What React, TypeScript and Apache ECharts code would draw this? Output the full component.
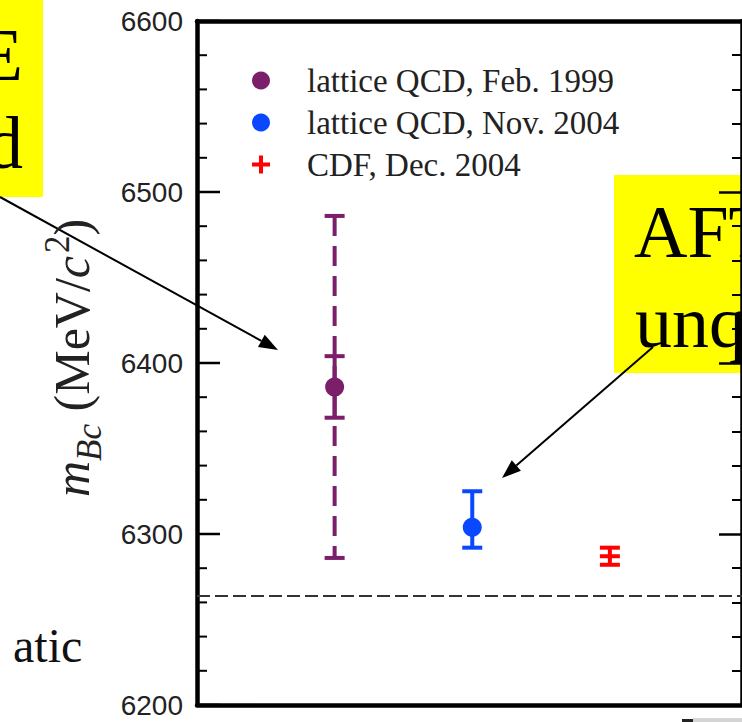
import React, { useEffect, useRef } from "react";
import * as echarts from "echarts";

// ---- data ----
const seriesNames = ["lattice QCD, Feb. 1999", "lattice QCD, Nov. 2004", "CDF, Dec. 2004"];
const seriesColors = ["#7b1f6b", "#0a48ff", "#ff0000"];
const xPositions = [1, 2, 3];
const centralValues = [6386, 6304, 6287];
const innerLow = [6368, 6292, 6282];
const innerHigh = [6404, 6325, 6292];
const outerLow = [6286, 6292, 6282];
const outerHigh = [6486, 6325, 6292];
const markerKinds = ["dashedDot", "dot", "cross"];
const referenceLine = 6264;
const yMin = 6200;
const yMax = 6600;
const yStep = 100;
// left-axis tick marks (value, 1 = major / 0 = minor)
const leftTickValues = [
  6200, 6220, 6240, 6260, 6280, 6300, 6320, 6340, 6360, 6380, 6400,
  6420, 6440, 6460, 6480, 6500, 6520, 6540, 6560, 6580, 6600,
];
const leftTickMajor = [1, 0, 0, 0, 0, 1, 0, 0, 0, 0, 1, 0, 0, 0, 0, 1, 0, 0, 0, 0, 1];

const plusIcon = "path://M7,0H11V7H18V11H11V18H7V11H0V7H7Z";

const GRID_LEFT = 197;
const GRID_RIGHT_EDGE = 751;

function measure(text: string, font: string): number {
  const c = document.createElement("canvas").getContext("2d");
  if (!c) return text.length * 20;
  c.font = font;
  return c.measureText(text).width;
}

function arrow(x1: number, y1: number, x2: number, y2: number, headLen = 19, headW = 14) {
  const dx = x2 - x1, dy = y2 - y1;
  const L = Math.hypot(dx, dy);
  const ux = dx / L, uy = dy / L, nx = -uy, ny = ux;
  const bx = x2 - ux * headLen, by = y2 - uy * headLen;
  return [
    { type: "line", shape: { x1, y1, x2: bx, y2: by }, style: { stroke: "#000", lineWidth: 2 } },
    {
      type: "polygon",
      shape: { points: [[x2, y2], [bx + (nx * headW) / 2, by + (ny * headW) / 2], [bx - (nx * headW) / 2, by - (ny * headW) / 2]] },
      style: { fill: "#000" },
    },
  ];
}

function makeRenderItem(kind: string) {
  return (params: any, api: any) => {
    const x = api.value(0);
    const pC = api.coord([x, api.value(1)]);
    const pLo = api.coord([x, api.value(2)]);
    const pHi = api.coord([x, api.value(3)]);
    const oLo = api.coord([x, api.value(4)]);
    const oHi = api.coord([x, api.value(5)]);
    const color = api.visual("color");
    const capHalf = 10;
    const lw = 4;
    const children: any[] = [];
    const cap = (p: number[]) => ({
      type: "line",
      shape: { x1: p[0] - capHalf, y1: p[1], x2: p[0] + capHalf, y2: p[1] },
      style: { stroke: color, lineWidth: lw },
    });
    if (kind === "dashedDot") {
      children.push({
        type: "line",
        shape: { x1: oHi[0], y1: oHi[1], x2: oLo[0], y2: oLo[1] },
        style: { stroke: color, lineWidth: lw, lineDash: [20, 10] },
      });
      children.push(cap(oLo), cap(oHi));
    }
    children.push({
      type: "line",
      shape: { x1: pHi[0], y1: pHi[1], x2: pLo[0], y2: pLo[1] },
      style: { stroke: color, lineWidth: lw },
    });
    children.push(cap(pLo), cap(pHi));
    if (kind === "cross") {
      children.push(cap(pC));
    } else {
      children.push({ type: "circle", shape: { cx: pC[0], cy: pC[1], r: 9.5 }, style: { fill: color } });
    }
    return { type: "group", children };
  };
}

function axisTitle() {
  const F = 50;
  const S = 35;
  const fam = "Liberation Serif";
  const pieces = [
    { t: "m", it: true, size: F, dy: 0 },
    { t: "Bc", it: true, size: S, dy: 0.24 * F },
    { t: " (MeV/", it: false, size: F, dy: 0 },
    { t: "c", it: true, size: F, dy: 0 },
    { t: "2", it: false, size: S, dy: -0.4 * F },
    { t: ")", it: false, size: F, dy: 0 },
  ];
  let cursor = 0;
  const children: any[] = [];
  for (const p of pieces) {
    const font = `${p.it ? "italic " : ""}${p.size}px "${fam}"`;
    children.push({
      type: "text",
      x: cursor,
      y: p.dy - 0.3375 * p.size,
      style: {
        text: p.t,
        fontFamily: fam,
        fontSize: p.size,
        fontStyle: p.it ? "italic" : "normal",
        fill: "#222",
        align: "left",
        verticalAlign: "middle",
      },
    });
    cursor += measure(p.t, font) + (p.t === "c" ? 3 : 0);
  }
  return { type: "group", x: 89, y: 497, rotation: Math.PI / 2, children };
}

function bigText(text: string, x: number, baseline: number, align: string) {
  const F = 74;
  return {
    type: "text",
    x,
    y: baseline - 0.3375 * F,
    style: { text, fontFamily: "Liberation Serif", fontSize: F, fill: "#000", align, verticalAlign: "middle" },
  };
}

function makeYAxis(position: string, opts: { ticks: boolean; labels: boolean }) {
  return {
    type: "value",
    min: yMin,
    max: yMax,
    interval: yStep,
    position,
    axisLine: { show: true, onZero: false, lineStyle: { color: "#000", width: 4.5 } },
    axisTick: { show: opts.ticks, inside: true, length: 23, lineStyle: { color: "#000", width: 2.5 } },
    minorTick: { show: opts.ticks, splitNumber: 5, length: 10, lineStyle: { color: "#000", width: 2 } },
    splitLine: { show: false },
    axisLabel: opts.labels
      ? {
          show: true,
          fontFamily: "Liberation Sans",
          fontSize: 28,
          color: "#222",
          margin: 14,
          formatter: (v: number) => String(v),
        }
      : { show: false },
  };
}

function makeXAxis(position: string) {
  return {
    type: "value",
    min: 0,
    max: 3.96,
    position,
    axisLine: { show: true, onZero: false, lineStyle: { color: "#000", width: 4.5 } },
    axisTick: { show: false },
    axisLabel: { show: false },
    splitLine: { show: false },
  };
}

export default function App() {
  const ref = useRef<HTMLDivElement>(null);
  useEffect(() => {
    if (!ref.current) return;
    const chart = echarts.init(ref.current, undefined, { renderer: "svg" });

    const series: any[] = seriesNames.map((name, i) => ({
      type: "custom",
      name,
      itemStyle: { color: seriesColors[i] },
      renderItem: makeRenderItem(markerKinds[i]),
      data: [[xPositions[i], centralValues[i], innerLow[i], innerHigh[i], outerLow[i], outerHigh[i]]],
      z: 5,
      ...(i === 0
        ? {
            markLine: {
              silent: true,
              symbol: "none",
              label: { show: false },
              lineStyle: { color: "#333", type: [13, 5], width: 2 },
              data: [{ yAxis: referenceLine }],
            },
          }
        : {}),
    }));

    const graphicBase: any[] = [
      { type: "rect", shape: { x: 0, y: 0, width: 43, height: 197 }, style: { fill: "#ffff00" } },
      bigText("E", 23, 80, "right"),
      bigText("d", 23, 168, "right"),
      { type: "rect", shape: { x: 614, y: 175, width: 140, height: 198 }, style: { fill: "#ffff00" } },
      bigText("AFT", 634, 257, "left"),
      bigText("unq", 635, 347, "left"),
      ...arrow(0, 197, 278, 350),
      ...arrow(653, 347, 502, 478),
      {
        type: "text",
        x: 13,
        y: 662 - 0.3375 * 48,
        style: { text: "atic", fontFamily: "Liberation Serif", fontSize: 48, fill: "#111", align: "left", verticalAlign: "middle" },
      },
      axisTitle(),
      { type: "rect", shape: { x: 693, y: 718, width: 49, height: 4 }, style: { fill: "#d4d4d4" } },
      { type: "rect", shape: { x: 682, y: 719, width: 11, height: 3 }, style: { fill: "#222" } },
    ];

    chart.setOption({
      animation: false,
      backgroundColor: "#fff",
      grid: { left: GRID_LEFT, right: 742 - GRID_RIGHT_EDGE, top: 21, bottom: 17 },
      xAxis: [makeXAxis("bottom"), makeXAxis("top")],
      yAxis: [
        makeYAxis("left", { ticks: false, labels: true }),
        makeYAxis("right", { ticks: true, labels: false }),
      ],
      legend: {
        data: seriesNames.map((n, i) => ({ name: n, icon: i === 2 ? plusIcon : "circle" })),
        orient: "vertical",
        left: 252,
        top: 64,
        padding: 0,
        itemWidth: 18,
        itemHeight: 18,
        itemGap: 9,
        selectedMode: false,
        textStyle: { fontFamily: "Liberation Serif", fontSize: 33, color: "#222", padding: [0, 0, 0, 32] },
      },
      series,
      graphic: graphicBase,
    } as any);

    // left-axis inward ticks, positioned through the chart's own scales
    const x0 = Number(chart.convertToPixel({ xAxisIndex: 0 } as any, 0));
    const tickGraphics = leftTickValues.map((v, i) => {
      const y = Number(chart.convertToPixel({ yAxisIndex: 0 } as any, v));
      const major = leftTickMajor[i] === 1;
      return {
        type: "line",
        z: 100,
        shape: { x1: x0, y1: y, x2: x0 + (major ? 23 : 10), y2: y },
        style: { stroke: "#000", lineWidth: major ? 2.5 : 2 },
      };
    });
    chart.setOption({ graphic: [...graphicBase, ...tickGraphics] } as any);

    return () => chart.dispose();
  }, []);

  return (
    <div
      ref={ref}
      style={{ position: "absolute", left: 0, top: 0, width: 742, height: 722, background: "#fff" }}
    />
  );
}
